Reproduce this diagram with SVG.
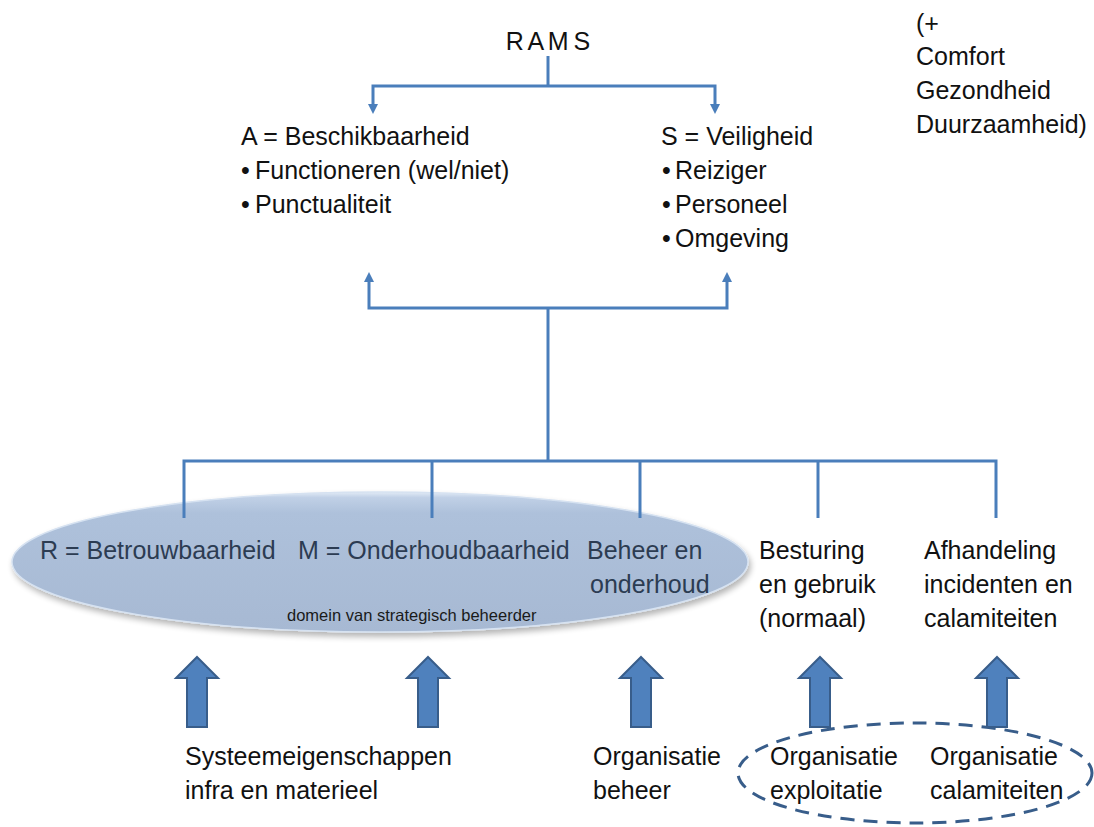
<svg xmlns="http://www.w3.org/2000/svg" width="1094" height="827" viewBox="0 0 1094 827">
  <style>
    .t { font-family: "Liberation Sans", Arial, sans-serif; font-size: 25px; fill: #111111; }
    .in { fill: #2c3c52; }
    .small { font-size: 16.5px; fill: #1a1a1a; }
    .conn { fill: none; stroke: #4a7ebb; stroke-width: 3; }
    .blk { fill: #4f81bd; stroke: #385d8a; stroke-width: 2; }
  </style>
  <defs>
    <marker id="ah" viewBox="0 0 10 10" refX="2" refY="5" markerUnits="userSpaceOnUse" markerWidth="10" markerHeight="10" orient="auto">
      <path d="M0,0 L10,5 L0,10 z" fill="#4a7ebb"/>
    </marker>
    <linearGradient id="eg" x1="0" y1="0" x2="0" y2="1">
      <stop offset="0" stop-color="#e2ebf6"/>
      <stop offset="0.04" stop-color="#c0d0e6"/>
      <stop offset="0.15" stop-color="#aec1db"/>
      <stop offset="1" stop-color="#a7b9d3"/>
    </linearGradient>
    <filter id="sh" x="-10%" y="-30%" width="120%" height="160%">
      <feGaussianBlur in="SourceAlpha" stdDeviation="3"/>
      <feOffset dx="2" dy="4" result="b"/>
      <feComponentTransfer><feFuncA type="linear" slope="0.3"/></feComponentTransfer>
      <feMerge><feMergeNode/><feMergeNode in="SourceGraphic"/></feMerge>
    </filter>
  </defs>

  <g id="connectors">
    <path class="conn" d="M548,56 V86"/>
    <path class="conn" d="M548,86 H373 V106" marker-end="url(#ah)"/>
    <path class="conn" d="M548,86 H715 V106" marker-end="url(#ah)"/>
    <path class="conn" d="M548,461 V308"/>
    <path class="conn" d="M548,308 H369 V280" marker-end="url(#ah)"/>
    <path class="conn" d="M548,308 H727 V280" marker-end="url(#ah)"/>
  </g>

  <g id="strategisch-domein">
    <ellipse cx="380" cy="562" rx="368" ry="70" fill="url(#eg)" stroke="#d6e2f1" stroke-width="1.5" filter="url(#sh)"/>
    <text class="t small" x="287" y="621">domein van strategisch beheerder</text>
  </g>

  <g id="connectors-bottom">
    <path class="conn" d="M184,518 V461 H996 V518"/>
    <path class="conn" d="M432,461 V518"/>
    <path class="conn" d="M640,461 V518"/>
    <path class="conn" d="M818,461 V518"/>
  </g>

  <g id="rams">
    <text class="t" x="548" y="50" text-anchor="middle" word-spacing="-2">R A M S</text>
  </g>

  <g id="extra">
    <text class="t" x="916" y="32">(+</text>
    <text class="t" x="916" y="65">Comfort</text>
    <text class="t" x="916" y="99">Gezondheid</text>
    <text class="t" x="916" y="133">Duurzaamheid)</text>
  </g>

  <g id="beschikbaarheid">
    <text class="t" x="241" y="145">A = Beschikbaarheid</text>
    <text class="t" x="241" y="179">•</text>
    <text class="t" x="255" y="179">Functioneren (wel/niet)</text>
    <text class="t" x="241" y="213">•</text>
    <text class="t" x="255" y="213">Punctualiteit</text>
  </g>

  <g id="veiligheid">
    <text class="t" x="661" y="145">S = Veiligheid</text>
    <text class="t" x="662" y="179">•</text>
    <text class="t" x="675" y="179">Reiziger</text>
    <text class="t" x="662" y="213">•</text>
    <text class="t" x="675" y="213">Personeel</text>
    <text class="t" x="662" y="247">•</text>
    <text class="t" x="675" y="247">Omgeving</text>
  </g>

  <g id="betrouwbaarheid">
    <text class="t in" x="40" y="559">R = Betrouwbaarheid</text>
  </g>
  <g id="onderhoudbaarheid">
    <text class="t in" x="298" y="559">M = Onderhoudbaarheid</text>
  </g>
  <g id="beheer-onderhoud">
    <text class="t in" x="587" y="559">Beheer en</text>
    <text class="t in" x="590" y="593">onderhoud</text>
  </g>
  <g id="besturing">
    <text class="t" x="759" y="559">Besturing</text>
    <text class="t" x="759" y="593">en gebruik</text>
    <text class="t" x="759" y="627">(normaal)</text>
  </g>
  <g id="afhandeling">
    <text class="t" x="924" y="559">Afhandeling</text>
    <text class="t" x="924" y="593">incidenten en</text>
    <text class="t" x="924" y="627">calamiteiten</text>
  </g>

  <g id="block-arrows">
    <path class="blk" d="M197,657 L218,678 L207,678 L207,727 L187,727 L187,678 L176,678 Z"/>
    <path class="blk" d="M428,657 L449,678 L438,678 L438,727 L418,727 L418,678 L407,678 Z"/>
    <path class="blk" d="M641,657 L662,678 L651,678 L651,727 L631,727 L631,678 L620,678 Z"/>
    <path class="blk" d="M820,657 L841,678 L830,678 L830,727 L810,727 L810,678 L799,678 Z"/>
    <path class="blk" d="M997,657 L1018,678 L1007,678 L1007,727 L987,727 L987,678 L976,678 Z"/>
  </g>

  <g id="systeemeigenschappen">
    <text class="t" x="185" y="765">Systeemeigenschappen</text>
    <text class="t" x="185" y="799">infra en materieel</text>
  </g>
  <g id="organisatie-beheer">
    <text class="t" x="593" y="765">Organisatie</text>
    <text class="t" x="593" y="799">beheer</text>
  </g>
  <g id="operationele-organisatie">
    <ellipse cx="915" cy="773" rx="177" ry="50" fill="none" stroke="#385d8a" stroke-width="3" stroke-dasharray="14 9"/>
    <text class="t" x="770" y="765">Organisatie</text>
    <text class="t" x="770" y="799">exploitatie</text>
    <text class="t" x="930" y="765">Organisatie</text>
    <text class="t" x="930" y="799">calamiteiten</text>
  </g>
</svg>
